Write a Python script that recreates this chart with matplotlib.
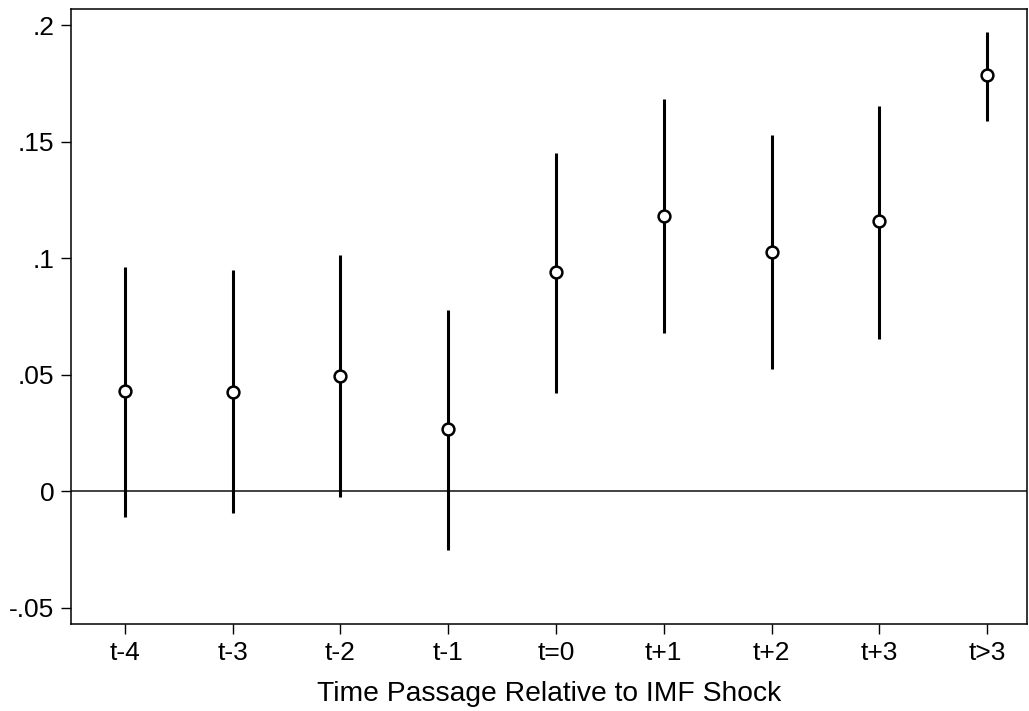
import matplotlib
matplotlib.use("Agg")
import matplotlib.pyplot as plt
import numpy as np

categories = ["t-4", "t-3", "t-2", "t-1", "t=0", "t+1", "t+2", "t+3", "t>3"]
estimates = [0.0431, 0.0427, 0.0496, 0.0267, 0.0940, 0.1181, 0.1026, 0.1160, 0.1784]
upper = [0.0961, 0.0948, 0.1013, 0.0780, 0.1453, 0.1681, 0.1530, 0.1655, 0.1970]
lower = [-0.0108, -0.0095, -0.0026, -0.0250, 0.0422, 0.0681, 0.0526, 0.0655, 0.1590]
yticks = [-0.05, 0, 0.05, 0.1, 0.15, 0.2]
yticklabels = ["-.05", "0", ".05", ".1", ".15", ".2"]

plt.rcParams['font.family'] = ['Liberation Sans', 'DejaVu Sans']

fig = plt.figure(figsize=(10.29, 7.11), dpi=100)
ax = fig.add_axes([71/1029, 1 - 624/711, (1027 - 71)/1029, (624 - 9)/711])

x = np.arange(len(categories))
ax.axhline(0, color="#333333", lw=1.3, zorder=1)
ax.vlines(x, lower, upper, color="black", lw=2.2, zorder=2)
ax.plot(x, estimates, linestyle="none", marker="o", markersize=8.5,
        markerfacecolor="white", markeredgecolor="black", markeredgewidth=1.8, zorder=3)

ax.set_xlim(-0.5, 8.37)
ax.set_ylim(-0.0569, 0.2069)
ax.set_xticks(x)
ax.set_xticklabels(categories)
ax.set_yticks(yticks)
ax.set_yticklabels(yticklabels)
ax.tick_params(axis="both", direction="out", length=7, width=1, labelsize=19, pad=5)
ax.set_xlabel("Time Passage Relative to IMF Shock", fontsize=20.3, labelpad=12)
for s in ax.spines.values():
    s.set_linewidth(1.1)

fig.savefig("out.png", dpi=100)
